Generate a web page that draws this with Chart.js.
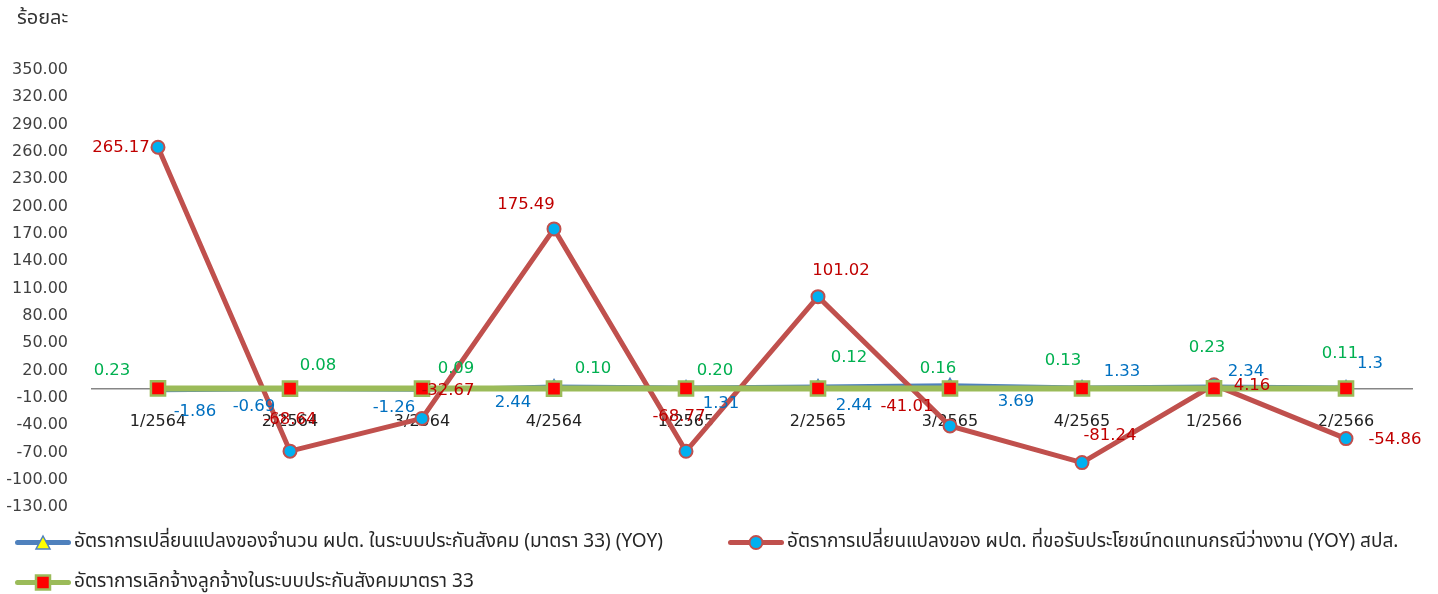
<!DOCTYPE html>
<html>
<head>
<meta charset="utf-8">
<script src="https://cdn.jsdelivr.net/npm/chart.js@4.4.1/dist/chart.umd.min.js"></script>
<style>
  html, body { margin: 0; padding: 0; background: #fff; }
  #wrap { position: relative; width: 1438px; height: 594px; overflow: hidden;
          font-family: Tahoma, "Noto Sans Thai", "Noto Sans", "DejaVu Sans", sans-serif; }
  #c { position: absolute; left: 0; top: 0; }
  #ytitle { position: absolute; left: 17px; top: 3px; font-size: 20px; color: #333; }
  .leg { position: absolute; display: flex; align-items: center; font-size: 19px; color: #262626; white-space: nowrap; }
  .mk { position: relative; width: 56px; height: 16px; margin-right: 3px; flex: none; }
  .mk .ln { position: absolute; left: 0; right: 0; top: 6px; height: 5px; border-radius: 3px; }
</style>
</head>
<body>
<div id="wrap">
  <canvas id="c" width="1438" height="594"></canvas>
  <div id="ytitle">ร้อยละ</div>
  <div class="leg" style="left:15px;top:527px;">
    <div class="mk"><div class="ln" style="background:#4F81BD"></div>
      <svg style="position:absolute;left:19px;top:0" width="18" height="17"><polygon points="9,2 16,15 2,15" fill="#FFFF00" stroke="#4F81BD" stroke-width="1.5"/></svg></div>
    <span>อัตราการเปลี่ยนแปลงของจำนวน ผปต. ในระบบประกันสังคม (มาตรา 33) (YOY)</span>
  </div>
  <div class="leg" style="left:728px;top:527px;">
    <div class="mk"><div class="ln" style="background:#C0504D"></div>
      <svg style="position:absolute;left:19px;top:0" width="18" height="17"><circle cx="9" cy="8.5" r="6.5" fill="#00B0F0" stroke="#C0504D" stroke-width="2"/></svg></div>
    <span>อัตราการเปลี่ยนแปลงของ ผปต. ที่ขอรับประโยชน์ทดแทนกรณีว่างงาน (YOY) สปส.</span>
  </div>
  <div class="leg" style="left:15px;top:567px;">
    <div class="mk"><div class="ln" style="background:#9BBB59"></div>
      <svg style="position:absolute;left:19px;top:0" width="18" height="17"><rect x="2" y="1.5" width="14" height="14" fill="#FF0000" stroke="#9BBB59" stroke-width="2.5"/></svg></div>
    <span>อัตราการเลิกจ้างลูกจ้างในระบบประกันสังคมมาตรา 33</span>
  </div>
</div>
<script>
const categories = ["1/2564","2/2564","3/2564","4/2564","1/2565","2/2565","3/2565","4/2565","1/2566","2/2566"];
const insuredYoY = [-1.86, -0.69, -1.26, 2.44, 1.31, 2.44, 3.69, 1.33, 2.34, 1.3];
const unemployedClaimsYoY = [265.17, -68.64, -32.67, 175.49, -68.77, 101.02, -41.01, -81.24, 4.16, -54.86];
const dismissalRate = [0.23, 0.08, 0.09, 0.10, 0.20, 0.12, 0.16, 0.13, 0.23, 0.11];
const seriesNames = [
  "อัตราการเปลี่ยนแปลงของจำนวน ผปต. ในระบบประกันสังคม (มาตรา 33) (YOY)",
  "อัตราการเปลี่ยนแปลงของ ผปต. ที่ขอรับประโยชน์ทดแทนกรณีว่างงาน (YOY) สปส.",
  "อัตราการเลิกจ้างลูกจ้างในระบบประกันสังคมมาตรา 33"
];
const yMin = -130, yMax = 350, yStep = 30;

// label offsets (pixels) relative to each point, per dataset
const labelOffsets = {
  0: [[37,21],[-36,17],[-28,18],[-41,16],[35,16],[36,19],[66,16],[40,-16],[32,-15],[24,-24]],
  1: [[-37,0],[0,-31],[26,-28],[-28,-24],[-7,-35],[23,-26],[-43,-19],[28,-27],[38,1],[49,1]],
  2: [[-46,-18],[28,-23],[34,-20],[39,-20],[29,-18],[31,-31],[-12,-20],[-19,-28],[-7,-41],[-6,-35]]
};
const labelColors = {0: "#0070C0", 1: "#C00000", 2: "#00B050"};
const labelFormat = {0: v => String(v), 1: v => v.toFixed(2), 2: v => v.toFixed(2)};

const dataLabelPlugin = {
  id: "pointLabels",
  afterDatasetsDraw(chart) {
    const ctx = chart.ctx;
    ctx.save();
    ctx.font = "16.5px 'DejaVu Sans', sans-serif";
    ctx.textAlign = "center";
    ctx.textBaseline = "middle";
    [0, 1, 2].forEach(di => {
      const meta = chart.getDatasetMeta(di);
      const ds = chart.data.datasets[di];
      meta.data.forEach((pt, i) => {
        const off = labelOffsets[di][i];
        ctx.fillStyle = labelColors[di];
        ctx.fillText(labelFormat[di](ds.data[i]), pt.x + off[0], pt.y + off[1]);
      });
    });
    ctx.restore();
  }
};

new Chart(document.getElementById("c"), {
  type: "line",
  data: {
    labels: categories,
    datasets: [
      {
        label: seriesNames[0], data: insuredYoY, order: 2,
        borderColor: "#4F81BD", borderWidth: 4, tension: 0,
        pointStyle: "triangle", pointRadius: 7, pointBackgroundColor: "#FFFF00",
        pointBorderColor: "#4F81BD", pointBorderWidth: 1.5
      },
      {
        label: seriesNames[1], data: unemployedClaimsYoY, order: 1,
        borderColor: "#C0504D", borderWidth: 5, tension: 0,
        pointStyle: "circle", pointRadius: 6.5, pointBackgroundColor: "#00B0F0",
        pointBorderColor: "#C0504D", pointBorderWidth: 2
      },
      {
        label: seriesNames[2], data: dismissalRate, order: 0,
        borderColor: "#9BBB59", borderWidth: 6, tension: 0,
        pointStyle: "rect", pointRadius: 10, pointBackgroundColor: "#FF0000",
        pointBorderColor: "#9BBB59", pointBorderWidth: 2.5
      }
    ]
  },
  options: {
    responsive: false,
    animation: false,
    layout: { padding: { left: 0, right: 26, top: 70, bottom: 87 } },
    plugins: { legend: { display: false }, tooltip: { enabled: false } },
    scales: {
      x: {
        type: "category",
        position: { y: 0 },
        offset: true,
        grid: { display: false },
        border: { display: true, color: "#868686", width: 1.5 },
        ticks: { color: "#222", font: { size: 16, family: "'DejaVu Sans', sans-serif" }, padding: 16, maxRotation: 0, autoSkip: false }
      },
      y: {
        min: yMin, max: yMax,
        grid: { display: false },
        border: { display: false },
        afterFit: s => { s.width = 92; },
        ticks: {
          stepSize: yStep, padding: 16, color: "#404040",
          font: { size: 16, family: "'DejaVu Sans', sans-serif" },
          callback: v => Number(v).toFixed(2)
        }
      }
    }
  },
  plugins: [dataLabelPlugin]
});
</script>
</body>
</html>
